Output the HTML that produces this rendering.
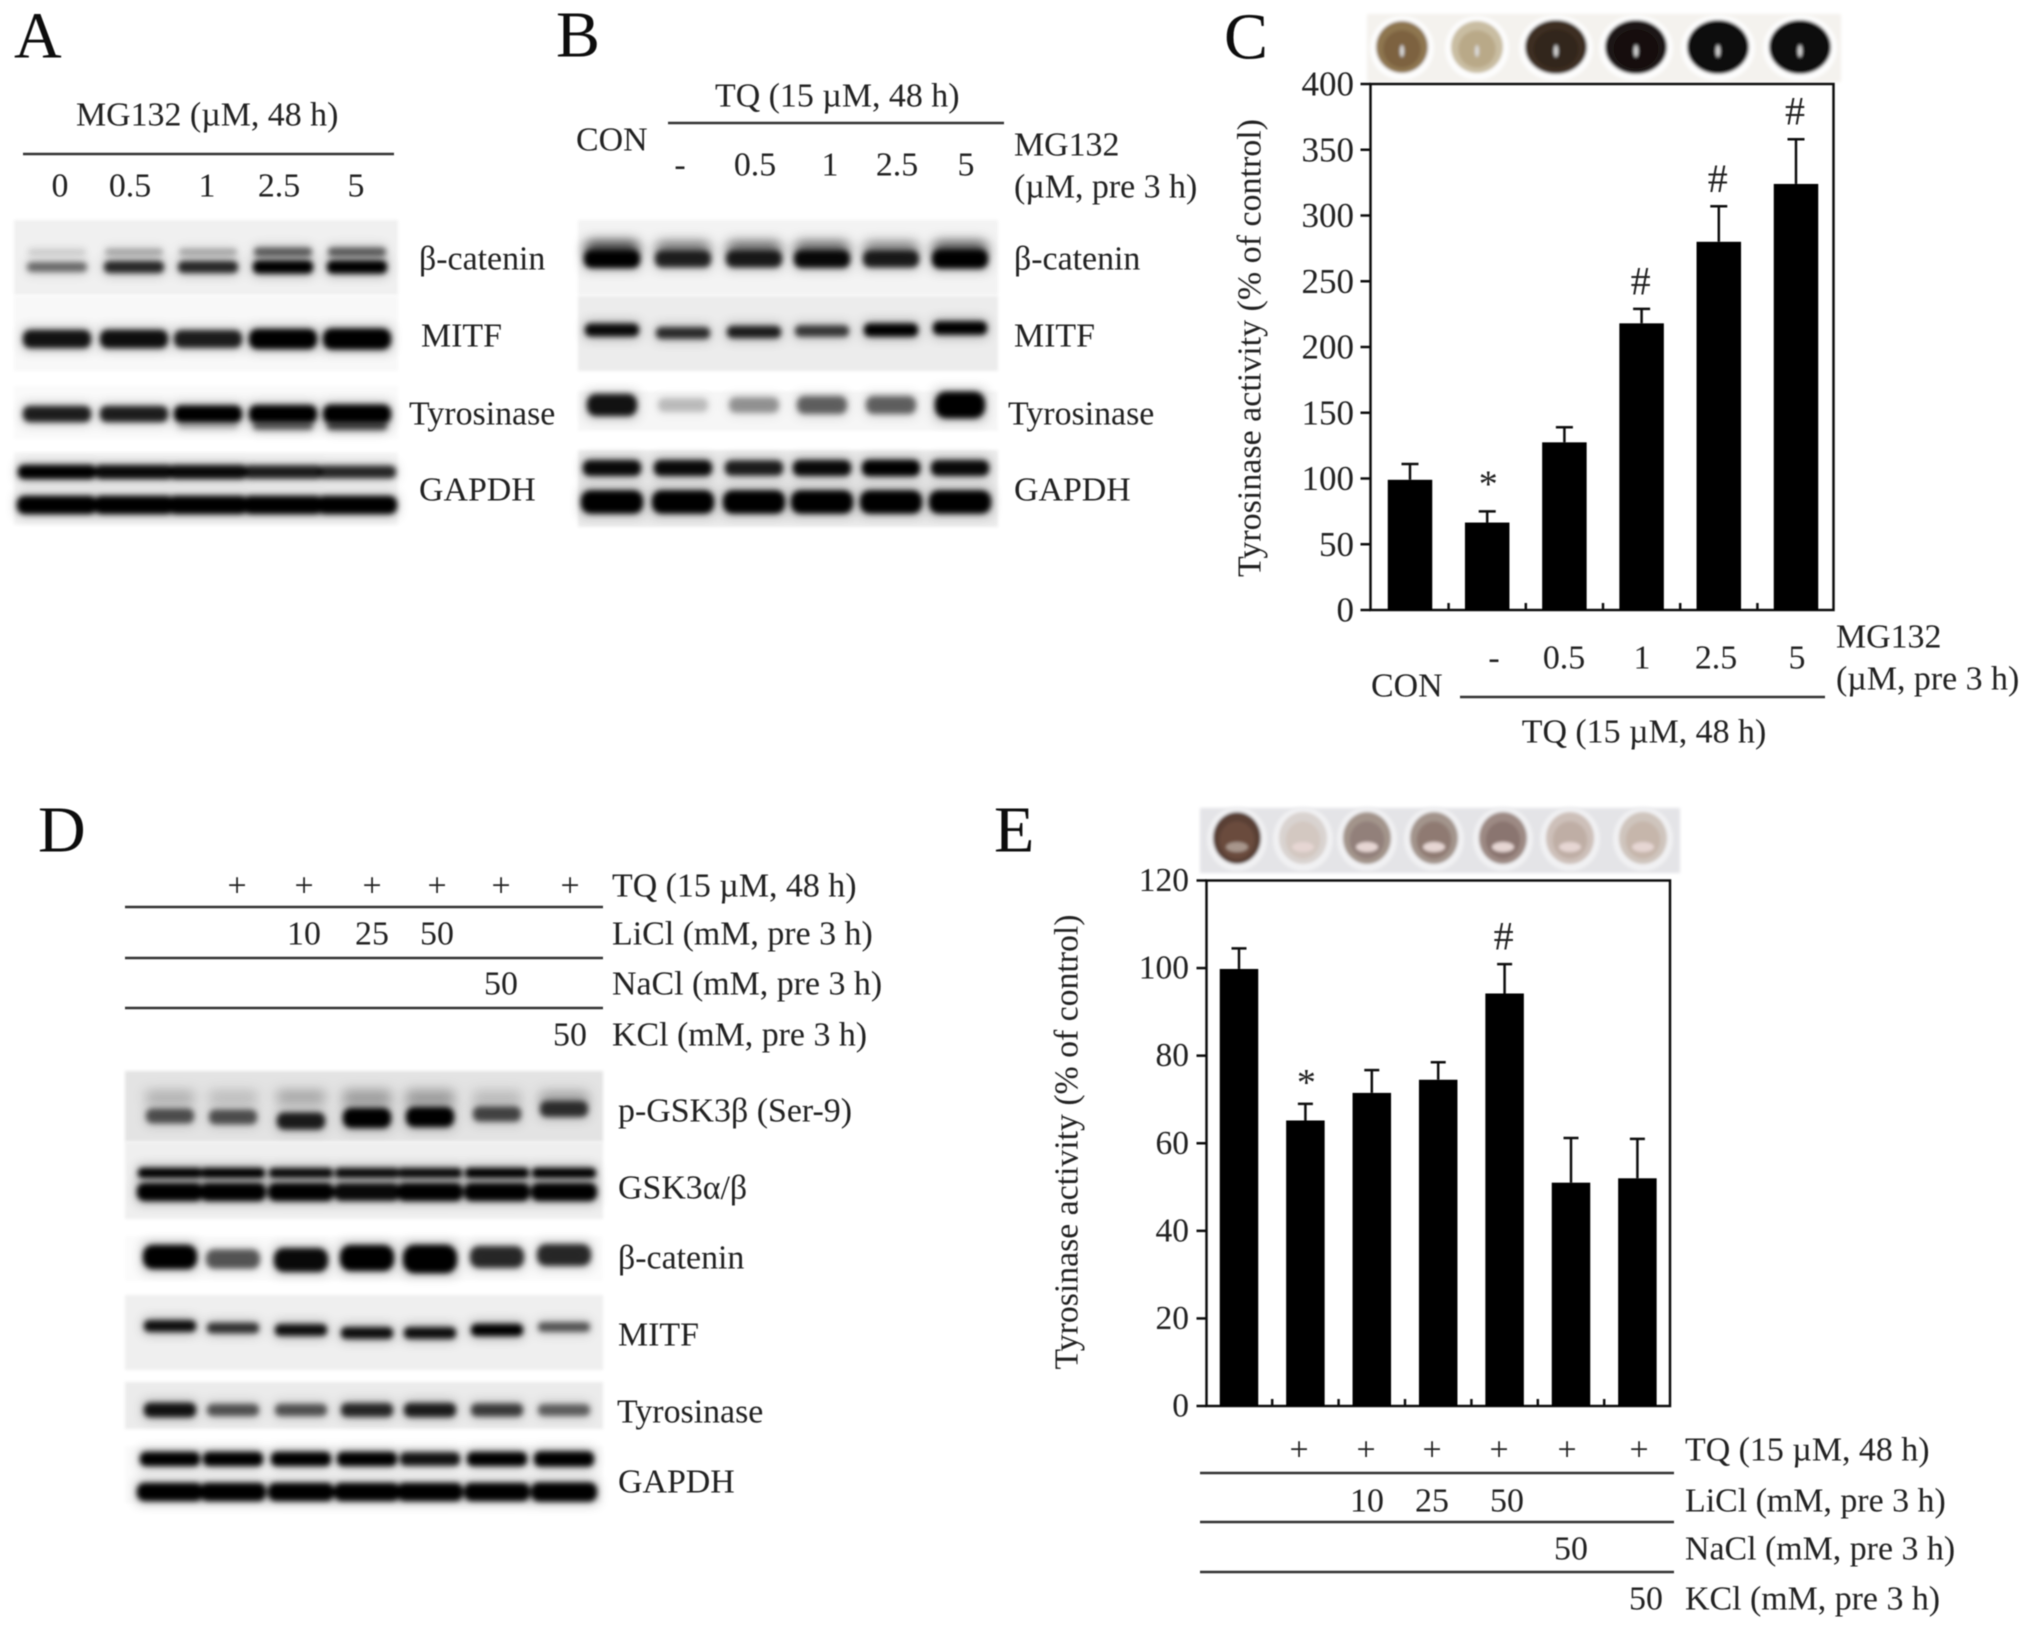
<!DOCTYPE html>
<html lang="en">
<head>
<meta charset="utf-8">
<title>Tyrosinase activity figure</title>
<style>
html,body{margin:0;padding:0;background:#fff;width:2031px;height:1631px;overflow:hidden}
svg{display:block}
text{font-family:"Liberation Serif",serif;font-size:33.9px;fill:#222;dominant-baseline:central}
.pl{font-size:66px;fill:#111}
.mid{text-anchor:middle}
.rule{stroke:#333;stroke-width:2.5}
</style>
</head>
<body>
<svg xmlns="http://www.w3.org/2000/svg" width="2031" height="1631" viewBox="0 0 2031 1631">
<defs>
<filter id="b1" x="-20%" y="-150%" width="140%" height="400%"><feGaussianBlur stdDeviation="3"/></filter>
<filter id="b2" x="-20%" y="-200%" width="140%" height="500%"><feGaussianBlur stdDeviation="6"/></filter>
<filter id="b3" x="-5%" y="-5%" width="110%" height="110%"><feGaussianBlur stdDeviation="1.6"/></filter>
<filter id="soft" x="-2%" y="-2%" width="104%" height="104%"><feGaussianBlur stdDeviation="0.45"/></filter>
</defs>
<g id="blots"></g>
<g id="wells"></g>
<g id="chartC" filter="url(#soft)"></g>
<g id="chartE" filter="url(#soft)"></g>
<g filter="url(#soft)">
<text class="pl" x="14" y="36">A</text>
<text class="pl" x="556" y="35">B</text>
<text class="pl" x="1224" y="37">C</text>
<text class="pl" x="38" y="830">D</text>
<text class="pl" x="994" y="830">E</text>

<text x="76" y="115">MG132 (µM, 48 h)</text>
<line class="rule" x1="23" y1="154" x2="394" y2="154"/>
<text class="mid" x="60" y="186">0</text>
<text class="mid" x="130" y="186">0.5</text>
<text class="mid" x="207" y="186">1</text>
<text class="mid" x="279" y="186">2.5</text>
<text class="mid" x="356" y="186">5</text>
<text x="419" y="259">β-catenin</text>
<text x="421" y="336">MITF</text>
<text x="409" y="414">Tyrosinase</text>
<text x="419" y="490">GAPDH</text>

<text x="715" y="96">TQ (15 µM, 48 h)</text>
<line class="rule" x1="668" y1="123" x2="1004" y2="123"/>
<text x="576" y="140">CON</text>
<text x="1014" y="145">MG132</text>
<text x="1014" y="187">(µM, pre 3 h)</text>
<text class="mid" x="680" y="165">-</text>
<text class="mid" x="755" y="165">0.5</text>
<text class="mid" x="830" y="165">1</text>
<text class="mid" x="897" y="165">2.5</text>
<text class="mid" x="966" y="165">5</text>
<text x="1014" y="259">β-catenin</text>
<text x="1014" y="336">MITF</text>
<text x="1008" y="414">Tyrosinase</text>
<text x="1014" y="490">GAPDH</text>

<text x="1836" y="637">MG132</text>
<text x="1836" y="679">(µM, pre 3 h)</text>
<text x="1371" y="686">CON</text>
<text class="mid" x="1494" y="658">-</text>
<text class="mid" x="1564" y="658">0.5</text>
<text class="mid" x="1642" y="658">1</text>
<text class="mid" x="1716" y="658">2.5</text>
<text class="mid" x="1797" y="658">5</text>
<line class="rule" x1="1460" y1="697" x2="1825" y2="697"/>
<text class="mid" x="1644" y="732">TQ (15 µM, 48 h)</text>

<text class="mid" x="237" y="886">+</text>
<text class="mid" x="304" y="886">+</text>
<text class="mid" x="372" y="886">+</text>
<text class="mid" x="437" y="886">+</text>
<text class="mid" x="501" y="886">+</text>
<text class="mid" x="570" y="886">+</text>
<line class="rule" x1="125" y1="907" x2="603" y2="907"/>
<line class="rule" x1="125" y1="958" x2="603" y2="958"/>
<line class="rule" x1="125" y1="1008" x2="603" y2="1008"/>
<text class="mid" x="304" y="934">10</text>
<text class="mid" x="372" y="934">25</text>
<text class="mid" x="437" y="934">50</text>
<text class="mid" x="501" y="984">50</text>
<text class="mid" x="570" y="1035">50</text>
<text x="612" y="886">TQ (15 µM, 48 h)</text>
<text x="612" y="934">LiCl (mM, pre 3 h)</text>
<text x="612" y="984">NaCl (mM, pre 3 h)</text>
<text x="612" y="1035">KCl (mM, pre 3 h)</text>
<text x="618" y="1111">p-GSK3β (Ser-9)</text>
<text x="618" y="1188">GSK3α/β</text>
<text x="618" y="1258">β-catenin</text>
<text x="618" y="1335">MITF</text>
<text x="617" y="1412">Tyrosinase</text>
<text x="618" y="1482">GAPDH</text>

<text class="mid" x="1299" y="1450">+</text>
<text class="mid" x="1366" y="1450">+</text>
<text class="mid" x="1432" y="1450">+</text>
<text class="mid" x="1499" y="1450">+</text>
<text class="mid" x="1567" y="1450">+</text>
<text class="mid" x="1639" y="1450">+</text>
<line class="rule" x1="1200" y1="1473" x2="1674" y2="1473"/>
<line class="rule" x1="1200" y1="1522" x2="1674" y2="1522"/>
<line class="rule" x1="1200" y1="1572" x2="1674" y2="1572"/>
<text class="mid" x="1367" y="1501">10</text>
<text class="mid" x="1432" y="1501">25</text>
<text class="mid" x="1507" y="1501">50</text>
<text class="mid" x="1571" y="1549">50</text>
<text class="mid" x="1646" y="1599">50</text>
<text x="1685" y="1450">TQ (15 µM, 48 h)</text>
<text x="1685" y="1501">LiCl (mM, pre 3 h)</text>
<text x="1685" y="1549">NaCl (mM, pre 3 h)</text>
<text x="1685" y="1599">KCl (mM, pre 3 h)</text>
</g>
</svg>
<script>
// Chart C values
const cCategories = ['CON', 'TQ', 'MG132 0.5', 'MG132 1', 'MG132 2.5', 'MG132 5'];
const cMeans = [99, 66.5, 127.5, 218, 280, 324];
const cErrorTops = [111, 75, 139, 229, 307, 358];
const cMarkers = ['', '*', '', '#', '#', '#'];
const cTicks = [0, 50, 100, 150, 200, 250, 300, 350, 400];

// Chart E values
const eCategories = ['CON', 'TQ', 'LiCl 10', 'LiCl 25', 'LiCl 50', 'NaCl 50', 'KCl 50'];
const eMeans = [99.8, 65.2, 71.5, 74.5, 94.2, 51, 52];
const eErrorTops = [104.5, 69, 76.7, 78.5, 100.9, 61.2, 61];
const eMarkers = ['', '*', '', '', '#', '', ''];
const eTicks = [0, 20, 40, 60, 80, 100, 120];

// Blot band intensities by lane
const aCateninUpper = [.12, .25, .25, .55, .55];
const aCateninLower = [.5, .8, .8, 1, 1];
const aMitf = [.9, .92, .85, 1.1, 1.2];
const aTyr = [.85, .85, 1, 1.1, 1.2];
const aTyrShadow = [0, 0, .2, .55, .65];
const aGapdhUpper = [1, .95, .95, .85, .8];
const aGapdhLower = [1, 1, 1, 1, 1];
const bCatenin = [1, .82, .85, .95, .85, 1.1];
const bCateninSmear = [.7, .5, .55, .55, .45, .6];
const bMitf = [.95, .78, .85, .72, 1, 1.05];
const bTyr = [.9, .2, .35, .55, .55, 1.3];
const bGapdhUpper = [.95, .95, .85, .95, 1, .95];
const bGapdhLower = [1, 1, 1, 1, 1, 1];
const dPgsk = [.6, .6, .85, 1.2, 1.2, .65, .75];
const dPgskSmear = [.25, .2, .3, .35, .35, .2, .25];
const dGskUpper = [1, 1, .95, .95, .95, 1, 1];
const dGskLower = [1, 1, 1, .95, 1, 1, 1];
const dCatenin = [1, .6, .95, 1.15, 1.35, .8, .8];
const dMitf = [.92, .75, .92, .92, .92, 1, .6];
const dTyr = [.9, .6, .6, .8, .85, .7, .55];
const dGapdhUpper = [1, 1, 1, 1, .9, 1, 1.15];
const dGapdhLower = [1, 1, 1, 1, 1, 1, 1.1];
// Lane-by-lane band drift
const bMitfDrift = [0, 3, 2, 1, 0, -2];
const dPgskDrift = [0, 1, 5, 2, 1, -2, -7];
const dMitfDrift = [-4, -2, 0, 3, 3, 0, -3];
const dCateninDrift = [-1, 1, 2, 0, 1, -1, -3];

const NS = 'http://www.w3.org/2000/svg';
function mk(parent, tag, attrs) {
  const el = document.createElementNS(NS, tag);
  for (const k in attrs) el.setAttribute(k, attrs[k]);
  parent.appendChild(el);
  return el;
}

/* ---------- bar charts ---------- */
function drawChart(host, o) {
  const y = v => o.y0 + (o.y1 - o.y0) * v / o.ticks[o.ticks.length - 1];
  const x = i => o.first + o.step * i;
  const frame = mk(host, 'rect', {x: o.left, y: o.y1, width: o.right - o.left, height: o.y0 - o.y1, fill: 'none', stroke: '#111', 'stroke-width': 2.5});
  
  
  o.ticks.forEach(t => {
    const tk = mk(host, 'line', {x1: o.left - 10, x2: o.left, y1: y(t), y2: y(t), stroke: '#111', 'stroke-width': 2.5});
    
    
    const lb = mk(host, 'text', {x: o.labelX, y: y(t), 'text-anchor': 'end', style: 'font-size:' + o.tickFont + 'px'});
    lb.textContent = t;
    
    
  });
  o.means.forEach((m, i) => {
    const bar = mk(host, 'rect', {x: x(i) - o.barW / 2, y: y(m), width: o.barW, height: o.y0 - y(m), fill: '#000'});
    
    
    const st = mk(host, 'line', {x1: x(i), x2: x(i), y1: y(m), y2: y(o.errs[i]), stroke: '#111', 'stroke-width': 2.5});
    
    
    const cp = mk(host, 'line', {x1: x(i) - o.cap / 2, x2: x(i) + o.cap / 2, y1: y(o.errs[i]), y2: y(o.errs[i]), stroke: '#111', 'stroke-width': 2.5});
    
    
    if (i < o.means.length - 1) {
      const xt = mk(host, 'line', {x1: x(i) + o.step / 2, x2: x(i) + o.step / 2, y1: o.y0, y2: o.y0 - 7, stroke: '#111', 'stroke-width': 2.5});
      
      
    }
    if (o.marks[i]) {
      const star = o.marks[i] === '*';
      const mt = mk(host, 'text', {x: x(i) + (star ? 1 : -1), y: y(o.errs[i]) - (star ? o.starLift : 28), 'text-anchor': 'middle', style: 'font-size:' + (star ? 38 : 40) + 'px'});
      mt.textContent = o.marks[i];
      
      
    }
  });
  const title = mk(host, 'text', {x: 0, y: 0, 'text-anchor': 'middle', textLength: o.titleLen, lengthAdjust: 'spacingAndGlyphs', transform: 'translate(' + o.titleX + ' ' + o.titleY + ') rotate(-90)'});
  title.textContent = 'Tyrosinase activity (% of control)';
  
  
}
drawChart(document.getElementById('chartC'), {cats: cCategories, means: cMeans, errs: cErrorTops, marks: cMarkers, ticks: cTicks,
  left: 1370.5, right: 1833.5, y0: 610, y1: 84, first: 1410, step: 77.2, barW: 44.5, cap: 17, labelX: 1354, tickFont: 35, starLift: 27,
  titleX: 1250, titleY: 348, titleLen: 458});
drawChart(document.getElementById('chartE'), {cats: eCategories, means: eMeans, errs: eErrorTops, marks: eMarkers, ticks: eTicks,
  left: 1206.5, right: 1670, y0: 1406, y1: 880.5, first: 1239, step: 66.4, barW: 38.5, cap: 15, labelX: 1189, tickFont: 33.5, starLift: 21,
  titleX: 1067, titleY: 1142, titleLen: 455});

/* ---------- western blots ---------- */
const blotHost = document.getElementById('blots');
function blotBg(x, y, w, h, fill, name) {
  const r = mk(blotHost, 'rect', {x: x, y: y, width: w, height: h, fill: fill, filter: 'url(#b3)'});
  
  
}
function bands(lanes, values, yc, thick, w, name, filter, drift) {
  const smear = filter === 'b2';
  if (!smear) {
    const halo = mk(blotHost, 'g', {filter: 'url(#b2)', opacity: .3});
    
    
    values.forEach((v, i) => {
      if (!v) return;
      const t = thick * (.5 + .5 * v) + 4;
      const dy = drift ? drift[i] : 0;
      const h = mk(halo, 'rect', {x: lanes[i] - w / 2, y: yc + dy - t / 2, width: w, height: t, fill: '#000', opacity: Math.min(1, v)});
      
      
    });
  }
  const g = mk(blotHost, 'g', {filter: 'url(#' + (filter || 'b1') + ')'});
  
  
  values.forEach((v, i) => {
    if (!v) return;
    const t = thick * (.5 + .5 * v);
    const dy = drift ? drift[i] : 0;
    const b = mk(g, 'rect', {x: lanes[i] - w / 2, y: yc + dy - t / 2, width: w, height: t, rx: t / 2.4, fill: '#000', opacity: Math.min(1, v)});
    
    
  });
}
const lanesA = [57, 134, 208, 283, 357];
const lanesB = [612, 683, 754, 822, 891, 960];
const lanesD = [170, 233, 301, 367, 430, 497, 564];

blotBg(14, 220, 384, 75, '#f0f0f0', 'a-blot-beta-catenin-bg');
blotBg(14, 296, 384, 75, '#f8f8f8', 'a-blot-mitf-bg');
blotBg(14, 386, 384, 53, '#fafafa', 'a-blot-tyrosinase-bg');
blotBg(14, 452, 384, 73, '#f6f6f6', 'a-blot-gapdh-bg');
bands(lanesA, aCateninUpper, 252, 12, 58, 'a-beta-catenin-upper');
bands(lanesA, aCateninLower, 267, 13, 60, 'a-beta-catenin-lower');
bands(lanesA, aMitf, 339, 19, 68, 'a-mitf');
bands(lanesA, aTyr, 414, 17, 68, 'a-tyrosinase');
bands(lanesA, aTyrShadow, 426, 10, 60, 'a-tyrosinase-lower');
bands(lanesA, aGapdhUpper, 472, 14, 78, 'a-gapdh-upper');
bands(lanesA, aGapdhLower, 505, 18, 80, 'a-gapdh-lower');

blotBg(578, 220, 420, 75, '#f3f3f3', 'b-blot-beta-catenin-bg');
blotBg(578, 296, 420, 75, '#ececec', 'b-blot-mitf-bg');
blotBg(578, 391, 420, 40, '#f6f6f6', 'b-blot-tyrosinase-bg');
blotBg(578, 450, 420, 77, '#ececec', 'b-blot-gapdh-bg');
bands(lanesB, bCateninSmear, 248, 18, 54, 'b-beta-catenin-smear', 'b2');
bands(lanesB, bCatenin, 259, 18, 56, 'b-beta-catenin');
bands(lanesB, bMitf, 330, 13, 54, 'b-mitf', null, bMitfDrift);
bands(lanesB, bTyr, 405, 23, 50, 'b-tyrosinase');
bands(lanesB, bGapdhUpper, 468, 16, 58, 'b-gapdh-upper');
bands(lanesB, bGapdhLower, 502, 23, 62, 'b-gapdh-lower');

blotBg(125, 1071, 478, 71, '#e3e3e3', 'd-blot-p-gsk-bg');
blotBg(125, 1142, 478, 77, '#efefef', 'd-blot-gsk-bg');
blotBg(125, 1236, 478, 45, '#fbfbfb', 'd-blot-beta-catenin-bg');
blotBg(125, 1295, 478, 75, '#efefef', 'd-blot-mitf-bg');
blotBg(125, 1382, 478, 47, '#ebebeb', 'd-blot-tyrosinase-bg');
blotBg(125, 1446, 478, 57, '#fafafa', 'd-blot-gapdh-bg');
bands(lanesD, dPgskSmear, 1097, 20, 50, 'd-p-gsk-smear', 'b2');
bands(lanesD, dPgsk, 1116, 18, 48, 'd-p-gsk', null, dPgskDrift);
bands(lanesD, dGskUpper, 1173, 10, 64, 'd-gsk-upper');
bands(lanesD, dGskLower, 1192, 18, 66, 'd-gsk-lower');
bands(lanesD, dCatenin, 1258, 24, 54, 'd-beta-catenin', null, dCateninDrift);
bands(lanesD, dMitf, 1330, 12, 52, 'd-mitf', null, dMitfDrift);
bands(lanesD, dTyr, 1410, 15, 52, 'd-tyrosinase');
bands(lanesD, dGapdhUpper, 1459, 14, 60, 'd-gapdh-upper');
bands(lanesD, dGapdhLower, 1492, 18, 66, 'd-gapdh-lower');

/* ---------- well photos ---------- */
const wellHost = document.getElementById('wells');
function strip(x, y, w, h, fill, name) {
  const r = mk(wellHost, 'rect', {x: x, y: y, width: w, height: h, fill: fill, filter: 'url(#b3)'});
  
  
}
function well(cx, cy, rx, ry, rim, outer, inner, centre, name) {
  const g = mk(wellHost, 'g', {filter: 'url(#b3)'});
  
  
  const o = mk(g, 'ellipse', {cx: cx, cy: cy + 1, rx: rx + 6, ry: ry + 6, fill: rim});
  
  
  const a = mk(g, 'ellipse', {cx: cx, cy: cy, rx: rx, ry: ry, fill: outer});
  
  
  const b = mk(g, 'ellipse', {cx: cx, cy: cy + 2, rx: rx * .72, ry: ry * .72, fill: inner});
  
  
  const c = mk(g, 'ellipse', {cx: cx, cy: cy + centre.dy, rx: centre.w, ry: centre.h, fill: centre.c});
  
  
}
strip(1367, 14, 474, 68, '#f4f2ee', 'c-well-strip');
const cWellX = [1402, 1477, 1556, 1636, 1718, 1800];
const cOuter = ['#8e7650', '#c9bda2', '#3e2f20', '#1c1512', '#100c0b', '#0e0c0c'];
const cInner = ['#7d6240', '#b9a988', '#33261a', '#17100d', '#0b0808', '#0b0909'];
cWellX.forEach((x, i) => well(x, 47, i < 2 ? 26 : 31, i < 2 ? 26 : 27, '#fdfdfd', cOuter[i], cInner[i], {w: 2, h: 6, c: '#ddd', dy: 4}, 'c-well-' + (i + 1)));

strip(1200, 808, 480, 65, '#e4e4e7', 'e-well-strip');
const eWellX = [1237, 1303, 1367, 1434, 1503, 1570, 1643];
const eOuter = ['#5a4034', '#d9d3d0', '#a3948b', '#a3948c', '#9d8a84', '#cdc0b9', '#cfc5bd'];
const eInner = ['#6b4c3e', '#d3c8c1', '#92807a', '#8f7a72', '#8a7570', '#bfaea5', '#c6b6ab'];
eWellX.forEach((x, i) => well(x, 838, 24, 26, '#f1f1f3', eOuter[i], eInner[i], {w: 11, h: 5, c: i === 0 ? '#a8968c' : '#e6d6d3', dy: 9}, 'e-well-' + (i + 1)));
</script>
</body>
</html>
